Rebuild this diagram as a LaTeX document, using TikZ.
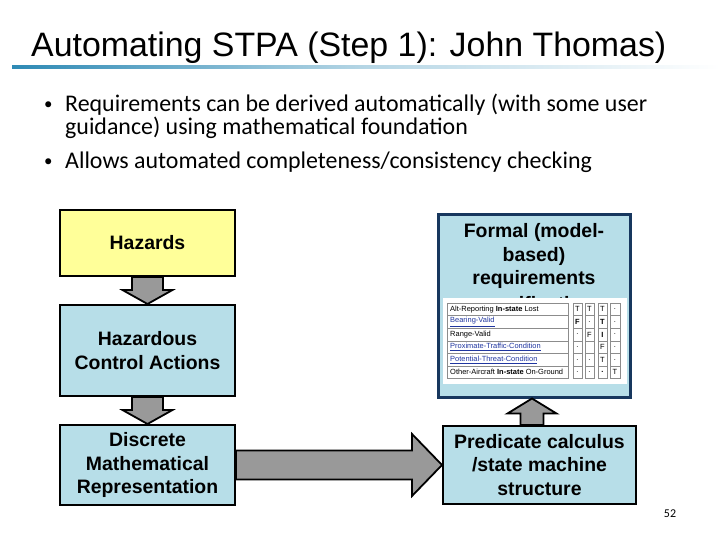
\documentclass[tikz,border=0pt]{standalone}
\usepackage{fontspec}
\setmainfont{Liberation Sans}
\newfontfamily\bodyfont{Carlito}
\usetikzlibrary{calc, positioning}
\definecolor{cbox}{HTML}{B7DEE8}
\definecolor{cyellow}{HTML}{FFFF99}
\definecolor{carrow}{HTML}{999999}
\definecolor{cnavy}{HTML}{17375E}
\definecolor{cbar}{HTML}{2E8AB5}
\definecolor{clink}{HTML}{2036A0}
\definecolor{cgrid}{HTML}{8C8C8C}
\tikzset{
  every picture/.style={x=1bp, y=-1bp},
  stepbox/.style={draw=black, fill=#1, line width=2bp, align=center, inner sep=2bp,
    font=\bfseries\fontsize{19.5}{24}\selectfont, minimum width=175bp},
  stepbox/.default=cbox,
  fatarrow/.style={draw=black, fill=carrow, line width=1.8bp, line join=miter},
  bullet/.style={font=\bodyfont\fontsize{24}{26}\selectfont, anchor=base west, inner sep=0pt},
  cell/.style={draw=cgrid, line width=0.5bp},
  celltext/.style={font=\fontsize{7.5}{8}\selectfont, inner sep=0pt},
}

\begin{document}
\begin{tikzpicture}
  \useasboundingbox (0,0) rectangle (720,540);
  % title and bar
  \node[anchor=base west, inner sep=0pt, font=\fontsize{34}{36}\selectfont] (title) at (31,57)
    {Automating STPA (Step 1): John Thomas)};
  \shade[left color=cbar, right color=white, middle color=cbar!35] (12,66) rectangle (720,69);
  % bullets
  \node[bullet, font=\bodyfont\fontsize{17}{20}\selectfont] (dot1) at (44,110) {\textbullet};
  \node[bullet] (txt1) at (65,111.5) {Requirements can be derived automatically (with some user};
  \node[bullet] (txt1b) at (65,134.5) {guidance) using mathematical foundation};
  \node[bullet, font=\bodyfont\fontsize{17}{20}\selectfont] (dot2) at (44,167) {\textbullet};
  \node[bullet] (txt2) at (65,168.5) {Allows automated completeness/consistency checking};
  % left column
  \node[stepbox=cyellow, minimum height=66bp] (haz) at (147.5,243) {Hazards};
  \node[stepbox, minimum height=91bp] (hca) at (147.5,350.5) {Hazardous\\Control Actions};
  \node[stepbox, minimum height=80bp] (disc) at (147.5,465) {Discrete\\Mathematical\\Representation};
  % right column
  \node[stepbox, minimum width=193bp, minimum height=78bp] (pred) at (539.5,465)
    {Predicate calculus\\/state machine\\structure};
  \node[draw=cnavy, fill=cbox, line width=3bp, minimum width=192bp, minimum height=182bp] (formal) at (534,306) {};
  \node[align=center, font=\bfseries\fontsize{19.5}{24}\selectfont] (formaltxt) at (534,256)
    {Formal (model-\\based)\\requirements};
  \node[font=\bfseries\fontsize{19.5}{24}\selectfont, anchor=base] (speclabel) at (534,310) {specification};
  % table picture
  \fill[white] (443,298) rectangle (627,384);
  \foreach \r/\lab/\c/\a/\b/\d/\e in {
      0/{Alt-Reporting \textbf{In-state} Lost}/black/T/T/T/.,
      1/{\underline{Bearing-Valid}}/clink/\textbf{F}/./\textbf{T}/.,
      2/{Range-Valid}/black/./F/\textbf{I}/.,
      3/{\underline{Proximate-Traffic-Condition}}/clink/./ /F/.,
      4/{\underline{Potential-Threat-Condition}}/clink/././T/.,
      5/{Other-Aircraft \textbf{In-state} On-Ground}/black/././\textbf{.}/T} {
    \draw[cell] (447,303+12.6*\r) rectangle (568,315.6+12.6*\r);
    \node[celltext, anchor=west, text=\c] (lab\r) at (450,309.3+12.6*\r) {\lab};
    \draw[cell] (573,303+12.6*\r) rectangle (582,315.6+12.6*\r);
    \draw[cell] (585,303+12.6*\r) rectangle (594,315.6+12.6*\r);
    \draw[cell] (598,303+12.6*\r) rectangle (607,315.6+12.6*\r);
    \draw[cell] (610,303+12.6*\r) rectangle (620,315.6+12.6*\r);
    \node[celltext] (va\r) at (577.5,309.3+12.6*\r) {\a};
    \node[celltext] (vb\r) at (589.5,309.3+12.6*\r) {\b};
    \node[celltext] (vc\r) at (602.5,309.3+12.6*\r) {\d};
    \node[celltext] (vd\r) at (615,309.3+12.6*\r) {\e};
  }
  % block arrows
  \draw[fatarrow] let \p1=(haz.south), \p2=(hca.north) in
    (\x1-15.5bp,\y1) -- (\x1+15.5bp,\y1) -- (\x1+15.5bp,\y2+14bp) -- (\x1+25bp,\y2+14bp)
    -- (\x1,\y2) -- (\x1-25bp,\y2+14bp) -- (\x1-15.5bp,\y2+14bp) -- cycle;
  \draw[fatarrow] let \p1=(hca.south), \p2=(disc.north) in
    (\x1-15.5bp,\y1) -- (\x1+15.5bp,\y1) -- (\x1+15.5bp,\y2+14bp) -- (\x1+25bp,\y2+14bp)
    -- (\x1,\y2) -- (\x1-25bp,\y2+14bp) -- (\x1-15.5bp,\y2+14bp) -- cycle;
  \draw[fatarrow] let \p1=(disc.east), \p2=(pred.west) in
    (\x1,\y1+14.5bp) -- (\x2-30bp,\y1+14.5bp) -- (\x2-30bp,\y1+31bp) -- (\x2,\y1)
    -- (\x2-30bp,\y1-31bp) -- (\x2-30bp,\y1-14.5bp) -- (\x1,\y1-14.5bp) -- cycle;
  \draw[fatarrow] let \p1=($(pred.north)+(-7.5,0)$), \p2=(formal.south) in
    (\x1-11.5bp,\y1) -- (\x1+11.5bp,\y1) -- (\x1+11.5bp,\y2-15bp) -- (\x1+24.5bp,\y2-15bp)
    -- (\x1,\y2) -- (\x1-24.5bp,\y2-15bp) -- (\x1-11.5bp,\y2-15bp) -- cycle;
  % page number
  \node[font=\bodyfont\fontsize{12}{14}\selectfont] (page) at (670,514) {52};
\end{tikzpicture}
\end{document}
